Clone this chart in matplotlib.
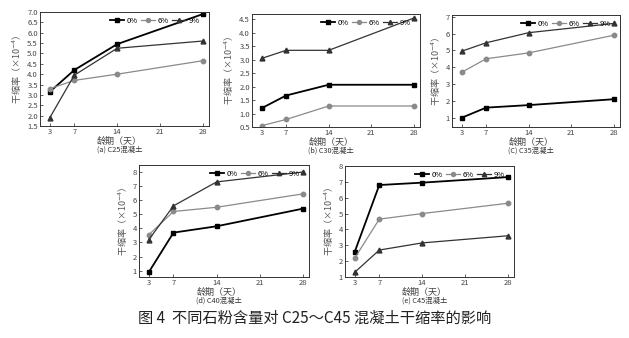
import numpy as np
import matplotlib.pyplot as plt
from matplotlib.ticker import FormatStrFormatter

plt.rcParams['font.family'] = ['Noto Sans CJK SC', 'DejaVu Sans']
plt.rcParams['axes.unicode_minus'] = False

# 龄期（天）
dias = [3, 7, 14, 28]

# (a) C25
c25_0 = [3.15, 4.2, 5.45, 6.9]
c25_6 = [3.3, 3.7, 4.0, 4.65]
c25_9 = [1.9, 3.95, 5.25, 5.6]
# (b) C30
c30_0 = [1.2, 1.67, 2.07, 2.07]
c30_6 = [0.55, 0.78, 1.28, 1.28]
c30_9 = [3.05, 3.35, 3.35, 4.55]
# (c) C35
c35_0 = [1.0, 1.6, 1.75, 2.1]
c35_6 = [3.7, 4.5, 4.85, 5.9]
c35_9 = [4.95, 5.45, 6.05, 6.6]
# (d) C40
c40_0 = [0.9, 3.7, 4.15, 5.4]
c40_6 = [3.55, 5.2, 5.5, 6.45]
c40_9 = [3.2, 5.6, 7.3, 8.0]
# (e) C45
c45_0 = [2.6, 6.8, 6.95, 7.3]
c45_6 = [2.2, 4.65, 5.0, 5.65]
c45_9 = [1.3, 2.7, 3.15, 3.6]

etiquetas = ['0%', '6%', '9%']
titulos = ['(a) C25混凝土', '(b) C30混凝土', '(C) C35混凝土', '(d) C40混凝土', '(e) C45混凝土']

W, H = 629, 338
fig = plt.figure(figsize=(W / 100, H / 100), dpi=100)

# (left, top, right, bottom) en píxeles
cajas = [(40, 12, 209, 126), (252, 14, 420, 127), (452, 15, 620, 127),
         (139, 165, 309, 277), (345, 166, 514, 277)]
series = [(c25_0, c25_6, c25_9), (c30_0, c30_6, c30_9), (c35_0, c35_6, c35_9),
          (c40_0, c40_6, c40_9), (c45_0, c45_6, c45_9)]
limites_y = [(1.5, 7.0), (0.5, 4.7), (0.45, 7.1), (0.55, 8.5), (1.0, 8.0)]
ticks_y = [np.arange(1.5, 7.01, 0.5), np.arange(0.5, 4.51, 0.5), range(1, 8),
           range(1, 9), range(1, 9)]

estilos = [dict(color='black', marker='s', lw=1.3, ms=3.5),
           dict(color='#8a8a8a', marker='o', lw=0.9, ms=3.2),
           dict(color='#333333', marker='^', lw=0.9, ms=3.5)]

pt = 72 / 100  # px -> pt

for i, (l, t, r, b) in enumerate(cajas):
    ax = fig.add_axes([l / W, 1 - b / H, (r - l) / W, (b - t) / H])
    for datos, lab, est in zip(series[i], etiquetas, estilos):
        ax.plot(dias, datos, label=lab, **est)
    ax.set_xlim(1.4, 29)
    ax.set_ylim(*limites_y[i])
    ax.set_xticks([3, 7, 14, 21, 28])
    ax.set_yticks(ticks_y[i])
    if i < 2:
        ax.yaxis.set_major_formatter(FormatStrFormatter('%.1f'))
    ax.tick_params(direction='in', length=2.5, width=0.6, labelsize=5.5, pad=1.5,
                   colors='#444444')
    for s in ax.spines.values():
        s.set_linewidth(0.7)
        s.set_color('#333333')
    ax.set_ylabel('干缩率（×10$^{-4}$）', fontsize=6.5, labelpad=2, color='#555555')
    # eje x y subtítulo colocados a mano, muy juntos como en el original
    ax.annotate('龄期（天）', xy=(0.47, 0), xycoords='axes fraction',
                xytext=(0, -15 * pt), textcoords='offset points',
                ha='center', va='center', fontsize=6.5, color='#444444')
    ax.annotate(titulos[i], xy=(0.47, 0), xycoords='axes fraction',
                xytext=(0, -24 * pt), textcoords='offset points',
                ha='center', va='center', fontsize=5.3, color='#333333')
    ax.legend(loc='upper right', ncol=3, frameon=False, fontsize=5.5,
              handlelength=1.8, columnspacing=0.5, handletextpad=0.3,
              borderaxespad=0.2, markerscale=0.9, bbox_to_anchor=(0.97, 1.0))

fig.text(0.5, 1 - 318 / H, '图 4  不同石粉含量对 C25～C45 混凝土干缩率的影响',
         ha='center', va='center', fontsize=11, color='#222222')

fig.savefig('out.png', dpi=100)
